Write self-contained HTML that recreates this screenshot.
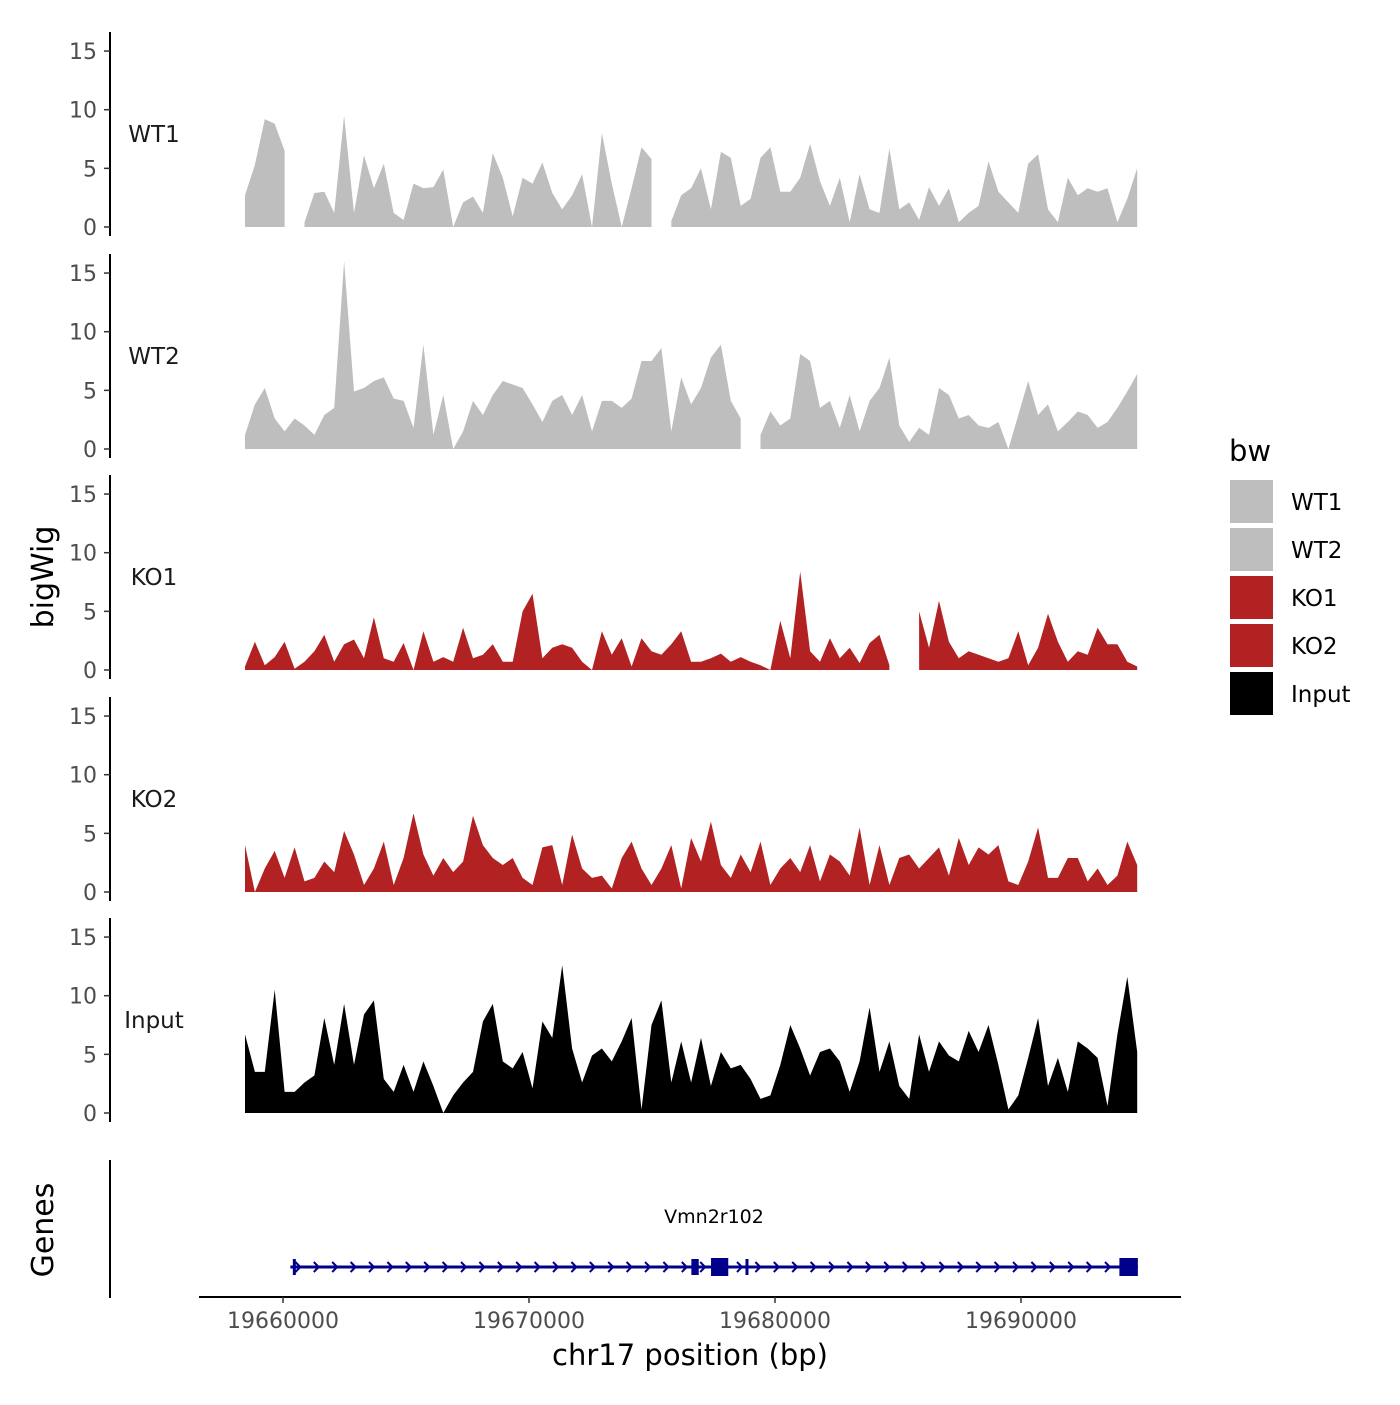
<!DOCTYPE html>
<html><head><meta charset="utf-8">
<style>
body{margin:0;background:#fff;}
svg{font-family:"DejaVu Sans","Liberation Sans",sans-serif;}
</style></head>
<body>
<svg id="chart" width="1400" height="1400" viewBox="0 0 1400 1400">
<g id="tracks"></g>
<g id="genes">
  <text x="714" y="1223" font-size="19" text-anchor="middle" fill="#000">Vmn2r102</text>
</g>
<text transform="translate(53,577) rotate(-90)" font-size="30" text-anchor="middle">bigWig</text>
<text transform="translate(53,1230) rotate(-90)" font-size="30" text-anchor="middle">Genes</text>
<line x1="110" y1="1160" x2="110" y2="1298" stroke="#000" stroke-width="2"/>
<g id="xaxis">
  <line x1="199" y1="1297" x2="1181" y2="1297" stroke="#000" stroke-width="2"/>
</g>
<text x="690" y="1365" font-size="29" text-anchor="middle">chr17 position (bp)</text>
<g id="legend">
  <text x="1229" y="461" font-size="29">bw</text>
</g>
</svg>
<script>
const categories = ["WT1","WT2","KO1","KO2","Input"];
const colors = ["#bebebe","#bebebe","#b22222","#b22222","#000000"];
const startBp = 19658455;
const stepBp = 403;
const wt1 = [2.7,5.3,9.2,8.8,6.5,null,0.4,2.9,3,1.2,9.5,1.2,6.1,3.3,5.4,1.2,0.6,3.7,3.3,3.4,4.9,0,2.1,2.6,1.2,6.3,4.2,0.9,4.2,3.7,5.5,2.9,1.5,2.7,4.5,0,8,3.7,0,3.3,6.8,5.8,null,0.5,2.7,3.3,5,1.5,6.4,5.9,1.8,2.4,5.9,6.8,3,3,4.2,7.1,3.9,1.8,4.2,0.4,4.5,1.5,1.2,6.7,1.5,2.1,0.6,3.4,1.8,3.3,0.4,1.2,1.8,5.6,3,2.1,1.2,5.4,6.2,1.5,0.4,4.2,2.7,3.3,3,3.3,0.4,2.4,5];
const wt2 = [1.2,3.8,5.2,2.6,1.5,2.6,2,1.2,2.9,3.5,16,4.9,5.2,5.8,6.1,4.3,4.1,1.8,8.9,1.2,4.6,0,1.5,4.1,2.9,4.6,5.8,5.5,5.2,3.8,2.3,4.1,4.6,2.9,4.6,1.5,4.1,4.1,3.5,4.3,7.5,7.5,8.6,1.5,6.1,3.8,5.2,7.8,8.9,4.1,2.6,null,1.2,3.2,2,2.6,8.1,7.5,3.5,4.1,1.8,4.6,1.5,4.1,5.2,7.8,2,0.6,1.8,1.2,5.2,4.6,2.6,2.9,2,1.8,2.3,0,2.9,5.8,2.9,3.8,1.5,2.3,3.2,2.9,1.8,2.3,3.5,4.9,6.4];
const ko1 = [0.3,2.4,0.4,1.1,2.4,0.1,0.7,1.6,3,0.7,2.2,2.6,1,4.5,1,0.7,2.3,0,3.3,0.7,1.1,0.7,3.6,1,1.3,2.2,0.7,0.7,5,6.5,1,1.9,2.2,1.9,0.7,0,3.3,1.3,2.7,0.3,2.7,1.6,1.3,2.2,3.3,0.7,0.7,1,1.4,0.7,1.1,0.7,0.4,0,4.2,1,8.4,1.6,0.7,2.7,1,1.9,0.6,2.3,3,0.4,null,null,5,1.9,5.9,2.4,1,1.6,1.3,1,0.7,1,3.3,0.4,1.9,4.8,2.4,0.7,1.6,1.3,3.6,2.2,2.2,0.7,0.3];
const ko2 = [4,0,2,3.5,1.2,3.8,0.9,1.2,2.6,1.7,5.2,3.2,0.6,2,4.3,0.6,2.9,6.7,3.2,1.4,2.9,1.7,2.6,6.5,4,2.9,2.3,2.9,1.2,0.6,3.8,4,0.6,4.9,2,1.2,1.4,0.3,2.9,4.3,2,0.6,2,4,0.3,4.6,2.6,6,2.3,1.2,3.2,1.7,4.3,0.6,2,2.9,1.7,4,0.9,3.2,2.6,1.4,5.5,0.6,4,0.6,2.9,3.2,2,2.9,3.8,1.4,4.6,2.3,3.8,3.2,4,0.9,0.6,2.6,5.5,1.2,1.2,2.9,2.9,0.9,2,0.6,1.4,4.3,2.3];
const input = [6.7,3.5,3.5,10.5,1.8,1.8,2.6,3.2,8.1,4.1,9.3,4.1,8.4,9.6,2.9,1.8,4.1,1.8,4.4,2.3,0,1.5,2.6,3.5,7.8,9.3,4.4,3.8,5.2,2.1,7.8,6.4,12.6,5.5,2.6,4.9,5.5,4.4,6.1,8.1,0.3,7.5,9.6,2.6,6.1,2.6,6.4,2.3,5.2,3.8,4.1,2.9,1.2,1.5,4.1,7.5,5.5,3.2,5.2,5.5,4.4,1.8,4.4,9,3.5,6.1,2.3,1.2,6.7,3.5,6.1,4.9,4.4,7,5.2,7.5,4.1,0.3,1.5,4.7,8.1,2.3,4.7,1.8,6.1,5.5,4.7,0.6,6.7,11.6,5.2];
const series = [wt1, wt2, ko1, ko2, input];
const yTicks = [0,5,10,15];
const xTicks = [19660000,19670000,19680000,19690000];
const geneStart = 19660300, geneEnd = 19694750;
const exonsBp = [[19660400,19660500],[19676600,19676900],[19677400,19678100],[19678800,19678900],[19694000,19694750]];

const NS = "http://www.w3.org/2000/svg";
function mk(tag, attrs, parent){const e=document.createElementNS(NS,tag);for(const k in attrs)e.setAttribute(k,attrs[k]);parent.appendChild(e);return e;}
function xScale(bp){return 283 + (bp - 19660000) * 246 / 10000;}
const zeroY = [227,449,670,892,1113];
const pxPerUnit = 11.73;
function yScale(p, v){return zeroY[p] - v * pxPerUnit;}

const tracks = document.getElementById('tracks');
categories.forEach((name, p) => {
  const g = mk('g', {}, tracks);
  
  
  const axis = mk('line', {x1:110, x2:110, y1:zeroY[p]-195, y2:zeroY[p]+9, stroke:'#000','stroke-width':2}, g);
  
  
  yTicks.forEach(t => {
    const y = yScale(p, t);
    const tk = mk('line', {x1:104, x2:110, y1:y, y2:y, stroke:'#333','stroke-width':1.5}, g);
    
    
    const lb = mk('text', {x:97, y:y+8, 'font-size':22, 'text-anchor':'end', fill:'#4d4d4d'}, g);
    lb.textContent = t;
    
    
  });
  const tl = mk('text', {x:154, y:zeroY[p]-85, 'font-size':23, 'text-anchor':'middle', fill:'#1a1a1a'}, g);
  tl.textContent = name;
  
  
  const vals = series[p];
  let seg = [];
  const flush = () => {
    if (seg.length > 1) {
      let d = 'M' + seg[0][0] + ',' + zeroY[p];
      seg.forEach(pt => { d += 'L' + pt[0].toFixed(1) + ',' + pt[1].toFixed(1); });
      d += 'L' + seg[seg.length-1][0].toFixed(1) + ',' + zeroY[p] + 'Z';
      const a = mk('path', {d:d, fill:colors[p]}, g);
      
      
    }
    seg = [];
  };
  vals.forEach((v, i) => {
    if (v === null) { flush(); return; }
    seg.push([xScale(startBp + i * stepBp), yScale(p, v)]);
  });
  flush();
});

const xa = document.getElementById('xaxis');
xTicks.forEach(t => {
  const x = xScale(t);
  const tk = mk('line', {x1:x, x2:x, y1:1297, y2:1303, stroke:'#333','stroke-width':1.5}, xa);
  
  
  const lb = mk('text', {x:x, y:1328, 'font-size':22, 'text-anchor':'middle', fill:'#4d4d4d'}, xa);
  lb.textContent = t;
  
  
});

const gg = document.getElementById('genes');
const gy = 1267;
const gl = mk('line', {x1:xScale(geneStart), x2:xScale(geneEnd), y1:gy, y2:gy, stroke:'#00008b','stroke-width':3}, gg);


for (let x = xScale(geneStart) + 8; x < xScale(geneEnd) - 10; x += 18.4) {
  const ar = mk('path', {d:`M${x-3},${gy-5}L${x+2},${gy}L${x-3},${gy+5}`, stroke:'#00008b','stroke-width':2, fill:'none'}, gg);
  
  
}
exonsBp.forEach(e => {
  const x1 = xScale(e[0]), x2 = xScale(e[1]);
  const w = Math.max(3, x2 - x1);
  const big = w > 10;
  const r = mk('rect', {x:x1, y:gy-(big?9:8), width:w, height:big?18:16, fill:'#00008b'}, gg);
  
  
});

const lg = document.getElementById('legend');
const legendColors = ["#bebebe","#bebebe","#b22222","#b22222","#000000"];
categories.forEach((name, i) => {
  const y = 480 + i * 48;
  const r = mk('rect', {x:1230, y:y, width:43, height:43, fill:legendColors[i]}, lg);
  
  
  const t = mk('text', {x:1291, y:y+30, 'font-size':23, fill:'#000'}, lg);
  t.textContent = name;
  
  
});
</script>
</body></html>
